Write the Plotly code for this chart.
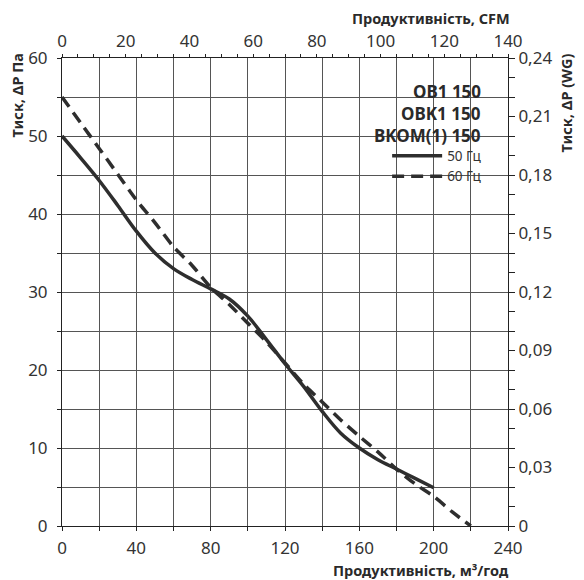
import plotly.graph_objects as go

# ── Дані кривих (м³/год → Па) ────────────────────────────────────────────────
q_50 = [0, 10, 20, 30, 40, 50, 60, 70, 80, 90, 100, 110, 120, 130, 140, 150, 160, 170, 180, 190, 200]
p_50 = [50, 47.2, 44.3, 41.1, 37.8, 35.0, 33.0, 31.6, 30.4, 29.1, 26.9, 23.9, 20.8, 17.9, 14.7, 11.9,
        10.0, 8.5, 7.3, 6.1, 4.9]

q_60 = [0, 10, 20, 30, 40, 50, 60, 70, 80, 90, 100, 110, 120, 130, 140, 150, 160, 170, 180, 190, 200,
        210, 220]
p_60 = [55, 51.7, 48.4, 45.1, 41.8, 38.9, 35.8, 33.4, 30.6, 28.4, 26.0, 23.6, 20.9, 18.2, 15.9, 13.6,
        11.5, 9.5, 7.3, 5.4, 3.8, 1.8, 0]

# ── Шкали ────────────────────────────────────────────────────────────────────
wg_ticks = [0, 0.03, 0.06, 0.09, 0.12, 0.15, 0.18, 0.21, 0.24]
wg_labels = ["0", "0,03", "0,06", "0,09", "0,12", "0,15", "0,18", "0,21", "0,24"]

models = ["OB1 150", "OBK1 150", "BKOM(1) 150"]

_INK = "#2e2e2e"
_GRID = "#555555"
_FONT = "Noto Sans, Open Sans, Arial, sans-serif"
_TICKFONT = dict(family=_FONT, size=17, color="#333333")

fig = go.Figure()

fig.add_trace(go.Scatter(
    x=q_50, y=p_50, mode="lines", name="50 Гц",
    line=dict(color=_INK, width=3.5, shape="spline", smoothing=1.0),
))
fig.add_trace(go.Scatter(
    x=q_60, y=p_60, mode="lines", name="60 Гц",
    line=dict(color=_INK, width=3.5, dash="12px,7px", shape="spline", smoothing=0.8),
))
# порожня серія, щоб з'явились верхня (CFM) та права (WG) осі
fig.add_trace(go.Scatter(x=[], y=[], xaxis="x2", yaxis="y2", showlegend=False, hoverinfo="skip"))

# біла підкладка під підписами моделей
fig.add_shape(type="rect", xref="paper", yref="paper",
              x0=0.684, x1=0.964, y0=0.722, y1=0.970,
              fillcolor="white", line=dict(width=0), layer="between")

for i, name in enumerate(models):
    fig.add_annotation(text=name, xref="paper", yref="paper", x=0.943, y=0.929 - i * 0.047,
                       xanchor="right", yanchor="middle", showarrow=False,
                       font=dict(family=_FONT, size=17, color="#2a2a2a", weight="bold"))

_axis_common = dict(showline=True, linecolor="#222222", linewidth=1, zeroline=False,
                    tickfont=_TICKFONT, ticks="outside", tickcolor="#222222")

fig.update_layout(
    width=584, height=580,
    paper_bgcolor="white", plot_bgcolor="white",
    margin=dict(l=62, r=76, t=58, b=54),
    font=dict(family=_FONT, color="#333333"),
    showlegend=True,
    legend=dict(x=0.729, y=0.824, xanchor="left", yanchor="top", bgcolor="rgba(0,0,0,0)",
                font=dict(family=_FONT, size=13.5, color="#333333"), itemwidth=50,
                tracegroupgap=0),
    xaxis=dict(range=[0, 240], dtick=40, ticklen=4, showgrid=True, gridcolor=_GRID, gridwidth=1,
               minor=dict(dtick=20, showgrid=True, gridcolor=_GRID, gridwidth=1,
                          ticks="outside", ticklen=4, tickcolor="#222222"),
               ticklabelstandoff=3, **_axis_common),
    yaxis=dict(range=[0, 60], dtick=10, ticklen=4, showgrid=True, gridcolor=_GRID, gridwidth=1,
               minor=dict(dtick=5, showgrid=True, gridcolor=_GRID, gridwidth=1,
                          ticks="outside", ticklen=4, tickcolor="#222222"),
               ticklabelstandoff=6, **_axis_common),
    xaxis2=dict(range=[0, 140], dtick=20, ticklen=3, overlaying="x", side="top", anchor="y",
                showgrid=False,
                minor=dict(dtick=5, ticks="outside", ticklen=3, tickcolor="#222222"),
                **_axis_common),
    yaxis2=dict(range=[0, 0.24], tickvals=wg_ticks, ticktext=wg_labels, ticklen=6,
                overlaying="y", side="right", anchor="x", showgrid=False,
                minor=dict(dtick=0.01, ticks="outside", ticklen=6, tickcolor="#222222"),
                **_axis_common),
)

_TITLE = dict(family=_FONT, size=14.5, color="#2a2a2a", weight="bold")
fig.add_annotation(text="Тиск, ΔP Па", xref="paper", yref="paper", x=-0.101, y=0.92,
                   xanchor="center", yanchor="middle", textangle=-90, showarrow=False, font=_TITLE)
fig.add_annotation(text="Тиск, ΔP (WG)", xref="paper", yref="paper", x=1.130, y=0.905,
                   xanchor="center", yanchor="middle", textangle=-90, showarrow=False, font=_TITLE)
fig.add_annotation(text="Продуктивність, CFM", xref="paper", yref="paper", x=1.010, y=1.085,
                   xanchor="right", yanchor="middle", showarrow=False, font=_TITLE)
fig.add_annotation(text="Продуктивність, м³/год", xref="paper", yref="paper", x=1.006, y=-0.094,
                   xanchor="right", yanchor="middle", showarrow=False, font=_TITLE)

# прибираємо типовий відступ body, щоб графік стояв у куті вікна
fig.write_html("out.html", config={"displayModeBar": False},
               post_script="document.body.style.margin='0';")
